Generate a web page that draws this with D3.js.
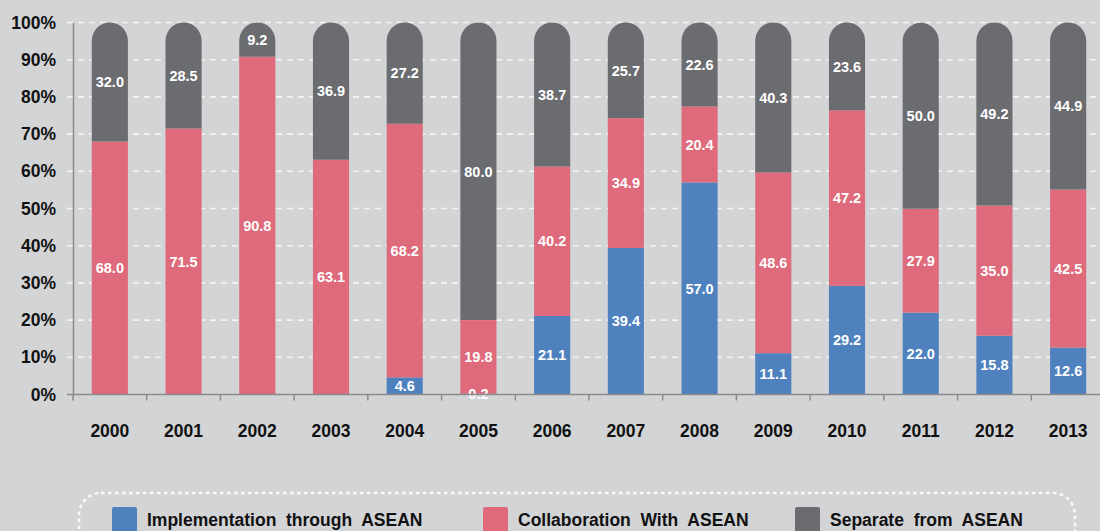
<!DOCTYPE html>
<html>
<head>
<meta charset="utf-8">
<script src="https://cdn.jsdelivr.net/npm/d3@7"></script>
<style>
  body { margin: 0; background: #d3d4d6; }
  svg { display: block; font-family: "Liberation Sans", Arial, sans-serif; }
</style>
</head>
<body>
<div id="holder"></div>
<script>
var years = ['2000','2001','2002','2003','2004','2005','2006','2007','2008','2009','2010','2011','2012','2013'];
var implementation = [0, 0, 0, 0, 4.6, 0.2, 21.1, 39.4, 57.0, 11.1, 29.2, 22.0, 15.8, 12.6];
var collaboration = [68.0, 71.5, 90.8, 63.1, 68.2, 19.8, 40.2, 34.9, 20.4, 48.6, 47.2, 27.9, 35.0, 42.5];
var separate = [32.0, 28.5, 9.2, 36.9, 27.2, 80.0, 38.7, 25.7, 22.6, 40.3, 23.6, 50.0, 49.2, 44.9];
var yTicks = [0, 10, 20, 30, 40, 50, 60, 70, 80, 90, 100];
var seriesNames = ['Implementation  through  ASEAN', 'Collaboration  With  ASEAN', 'Separate  from  ASEAN'];
var colors = ['#4f81bf', '#de6a7b', '#6b6c70'];

var width = 1100, height = 531;
var svg = d3.select('#holder').append('svg').attr('width', width).attr('height', height);

var x = d3.scaleBand().domain(years).range([73, 1105]).paddingInner(0.51).paddingOuter(0.255);
var y = d3.scaleLinear().domain([0, 100]).range([394.5, 22.5]);
var bw = x.bandwidth();
var r = bw / 2;

// grid lines
svg.append('g').selectAll('line').data(yTicks.filter(function(d) { return d > 0; }))
  .enter().append('line')
  .attr('x1', 67).attr('x2', width)
  .attr('y1', function(d) { return y(d); }).attr('y2', function(d) { return y(d); })
  .attr('stroke', '#f4f4f4').attr('stroke-width', 1.6).attr('stroke-dasharray', '6,5');

// y axis
var yAxis = svg.append('g').attr('transform', 'translate(73,0)')
  .call(d3.axisLeft(y).tickValues(yTicks).tickSize(0).tickPadding(17).tickFormat(function(d) { return d + '%'; }));
yAxis.select('.domain').attr('stroke', '#8a8a8c').attr('stroke-width', 1.5);
yAxis.selectAll('text').attr('font-size', 17.5).attr('font-weight', 'bold').attr('fill', '#111');

var rows = years.map(function(yr, i) {
  return { year: yr, a: implementation[i], b: collaboration[i], c: separate[i] };
});

var bars = svg.append('g').selectAll('g').data(rows).enter().append('g');

bars.append('rect')
  .attr('x', function(d) { return x(d.year); })
  .attr('width', bw)
  .attr('y', function(d) { return y(d.a); })
  .attr('height', function(d) { return y(0) - y(d.a); })
  .attr('fill', colors[0]);

bars.append('rect')
  .attr('x', function(d) { return x(d.year); })
  .attr('width', bw)
  .attr('y', function(d) { return y(d.a + d.b); })
  .attr('height', function(d) { return y(d.a) - y(d.a + d.b); })
  .attr('fill', colors[1]);

bars.append('path')
  .attr('fill', colors[2])
  .attr('d', function(d) {
    var x0 = x(d.year), x1 = x0 + bw;
    var yb = y(d.a + d.b), yt = y(d.a + d.b + d.c);
    return 'M' + x0 + ',' + yb + 'L' + x0 + ',' + (yt + r) +
      'A' + r + ',' + r + ' 0 0 1 ' + x1 + ',' + (yt + r) +
      'L' + x1 + ',' + yb + 'Z';
  });

// x axis
var xAxis = svg.append('g').attr('transform', 'translate(0,394.5)');
xAxis.append('line').attr('x1', 67).attr('x2', width).attr('stroke', '#8a8a8c').attr('stroke-width', 1.5);
var gap = (x.step() - bw) / 2;
xAxis.selectAll('line.tick').data(years).enter().append('line')
  .attr('class', 'tick')
  .attr('x1', function(d) { return x(d) - gap; })
  .attr('x2', function(d) { return x(d) - gap; })
  .attr('y1', 0).attr('y2', 6).attr('stroke', '#8a8a8c').attr('stroke-width', 1.5);
xAxis.selectAll('text').data(years).enter().append('text')
  .attr('x', function(d) { return x(d) + bw / 2; })
  .attr('y', 42)
  .attr('text-anchor', 'middle')
  .attr('font-size', 17.5).attr('font-weight', 'bold').attr('fill', '#111')
  .text(function(d) { return d; });

// value labels
function label(sel, val, lo, hi) {
  sel.filter(function(d) { return val(d) > 0; })
    .append('text')
    .attr('x', function(d) { return x(d.year) + bw / 2; })
    .attr('y', function(d) { return (y(lo(d)) + y(hi(d))) / 2; })
    .attr('dy', '0.36em')
    .attr('text-anchor', 'middle')
    .attr('font-size', 14.5).attr('font-weight', 'bold').attr('fill', '#fff')
    .text(function(d) { return val(d).toFixed(1); });
}
label(bars, function(d) { return d.a; }, function(d) { return 0; }, function(d) { return d.a; });
label(bars, function(d) { return d.b; }, function(d) { return d.a; }, function(d) { return d.a + d.b; });
label(bars, function(d) { return d.c; }, function(d) { return d.a + d.b; }, function(d) { return d.a + d.b + d.c; });

// legend
svg.append('rect')
  .attr('x', 79).attr('y', 493).attr('width', 996).attr('height', 80).attr('rx', 22)
  .attr('fill', 'none').attr('stroke', '#fafafa').attr('stroke-width', 2.5).attr('stroke-dasharray', '3.5,3.5');

var legendX = [112, 483, 795];
var legend = svg.append('g').selectAll('g').data(seriesNames).enter().append('g')
  .attr('transform', function(d, i) { return 'translate(' + legendX[i] + ',507)'; });
legend.append('rect').attr('width', 25).attr('height', 26).attr('rx', 2)
  .attr('fill', function(d, i) { return colors[i]; });
legend.append('text').attr('x', 35).attr('y', 19)
  .attr('font-size', 17.5).attr('font-weight', 'bold').attr('fill', '#111')
  .attr('xml:space', 'preserve').style('white-space', 'pre')
  .text(function(d) { return d; });
</script>
</body>
</html>
